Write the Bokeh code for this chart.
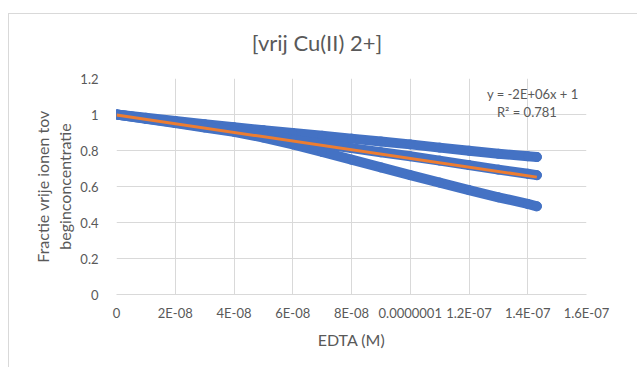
from bokeh.plotting import figure
from bokeh.models import Range1d, FixedTicker, ColumnDataSource, Div
from bokeh.layouts import column
from bokeh.core.properties import value
from bokeh.embed import file_html
from bokeh.resources import INLINE

# ---- data ----
edta = [0, 1e-8, 2e-8, 3e-8, 4e-8, 5e-8, 6e-8, 7e-8, 8e-8, 9e-8,
        1e-7, 1.1e-7, 1.2e-7, 1.3e-7, 1.4e-7, 1.431e-7]
frac_high = [1.0, 0.982, 0.964, 0.946, 0.929, 0.913, 0.897, 0.882, 0.866, 0.850,
             0.834, 0.816, 0.799, 0.782, 0.768, 0.764]
frac_mid = [1.0, 0.978, 0.955, 0.932, 0.908, 0.884, 0.860, 0.836, 0.813, 0.790,
            0.768, 0.744, 0.719, 0.694, 0.671, 0.663]
frac_low = [1.0, 0.976, 0.952, 0.928, 0.904, 0.872, 0.834, 0.792, 0.749, 0.706,
            0.663, 0.622, 0.580, 0.540, 0.503, 0.490]
trend_x = [0, 1.431e-7]
trend_y = [0.997, 0.652]

x_ticks = [0, 2e-8, 4e-8, 6e-8, 8e-8, 1e-7, 1.2e-7, 1.4e-7, 1.6e-7]
x_tick_labels = ["0", "2E-08", "4E-08", "6E-08", "8E-08", "0.0000001", "1.2E-07", "1.4E-07", "1.6E-07"]
y_ticks = [0, 0.2, 0.4, 0.6, 0.8, 1.0, 1.2]
y_tick_labels = ["0", "0.2", "0.4", "0.6", "0.8", "1", "1.2"]

title_text = "[vrij Cu(II) 2+]"
x_title = "EDTA (M)"
y_title = "Fractie vrije ionen tov\nbeginconcentratie"
eq_text = "y = -2E+06x + 1"
r2_text = "R\u00b2 = 0.781"

FONT = "Lato"
GREY = "#595959"
BLUE = "#4472C4"
ORANGE = "#ED7D31"
GRID = "#d9d9d9"

title_div = Div(
    text=('<div style="text-align:center;font-family:Lato;font-size:22px;color:#595959;'
          'line-height:22px;padding-top:18px;width:616px;white-space:nowrap">'
          + title_text + '</div>'),
    width=628, height=40, margin=0)

p = figure(width=628, height=313, output_backend="svg", toolbar_location=None,
           x_range=Range1d(0, 1.6e-7), y_range=Range1d(0, 1.2),
           min_border_left=107, min_border_right=51, min_border_top=24, min_border_bottom=73,
           margin=0)
p.outline_line_color = None
p.background_fill_color = "white"
p.border_fill_color = "white"

p.xaxis.ticker = FixedTicker(ticks=x_ticks)
p.xaxis.major_label_overrides = {t: l for t, l in zip(x_ticks, x_tick_labels)}
p.yaxis.ticker = FixedTicker(ticks=y_ticks)
p.yaxis.major_label_overrides = {t: l for t, l in zip(y_ticks, y_tick_labels)}

for ax in (p.xaxis, p.yaxis):
    ax.major_tick_line_color = None
    ax.minor_tick_line_color = None
    ax.major_label_text_font = FONT
    ax.major_label_text_font_size = "13px"
    ax.major_label_text_color = GREY
    ax.axis_label_text_font = FONT
    ax.axis_label_text_font_size = "16px"
    ax.axis_label_text_font_style = "normal"
    ax.axis_label_text_color = GREY

p.xaxis.axis_line_color = GRID
p.yaxis.axis_line_color = None
p.xaxis.axis_label = x_title
p.yaxis.axis_label = y_title
p.xaxis.major_label_standoff = 4
p.yaxis.major_label_standoff = 12
p.xaxis.axis_label_standoff = 6
p.yaxis.axis_label_standoff = 3

p.xgrid.grid_line_color = GRID
p.ygrid.grid_line_color = GRID
p.xgrid.ticker = FixedTicker(ticks=x_ticks)
p.ygrid.ticker = FixedTicker(ticks=y_ticks)

for ys in (frac_high, frac_mid, frac_low):
    src = ColumnDataSource(dict(x=edta, y=ys))
    p.line("x", "y", source=src, line_color=BLUE, line_width=10, line_cap="round", line_join="round")
    p.scatter("x", "y", source=src, size=9, fill_color=BLUE, line_color=BLUE)

p.line(trend_x, trend_y, line_color=ORANGE, line_width=3)

p.text(x=[1.417e-7], y=[1.113], text=[eq_text], text_align="center", text_baseline="middle",
       text_font=value(FONT), text_font_size="13px", text_color=GREY)
p.text(x=[1.397e-7], y=[1.013], text=[r2_text], text_align="center", text_baseline="middle",
       text_font=value(FONT), text_font_size="13px", text_color=GREY)

layout = column(title_div, p, spacing=0, margin=(13, 0, 0, 8))
layout.styles = {"border-left": "1px solid #d9d9d9", "border-top": "1px solid #d9d9d9",
                 "background": "white"}

open("out.html", "w").write(file_html(layout, INLINE))
